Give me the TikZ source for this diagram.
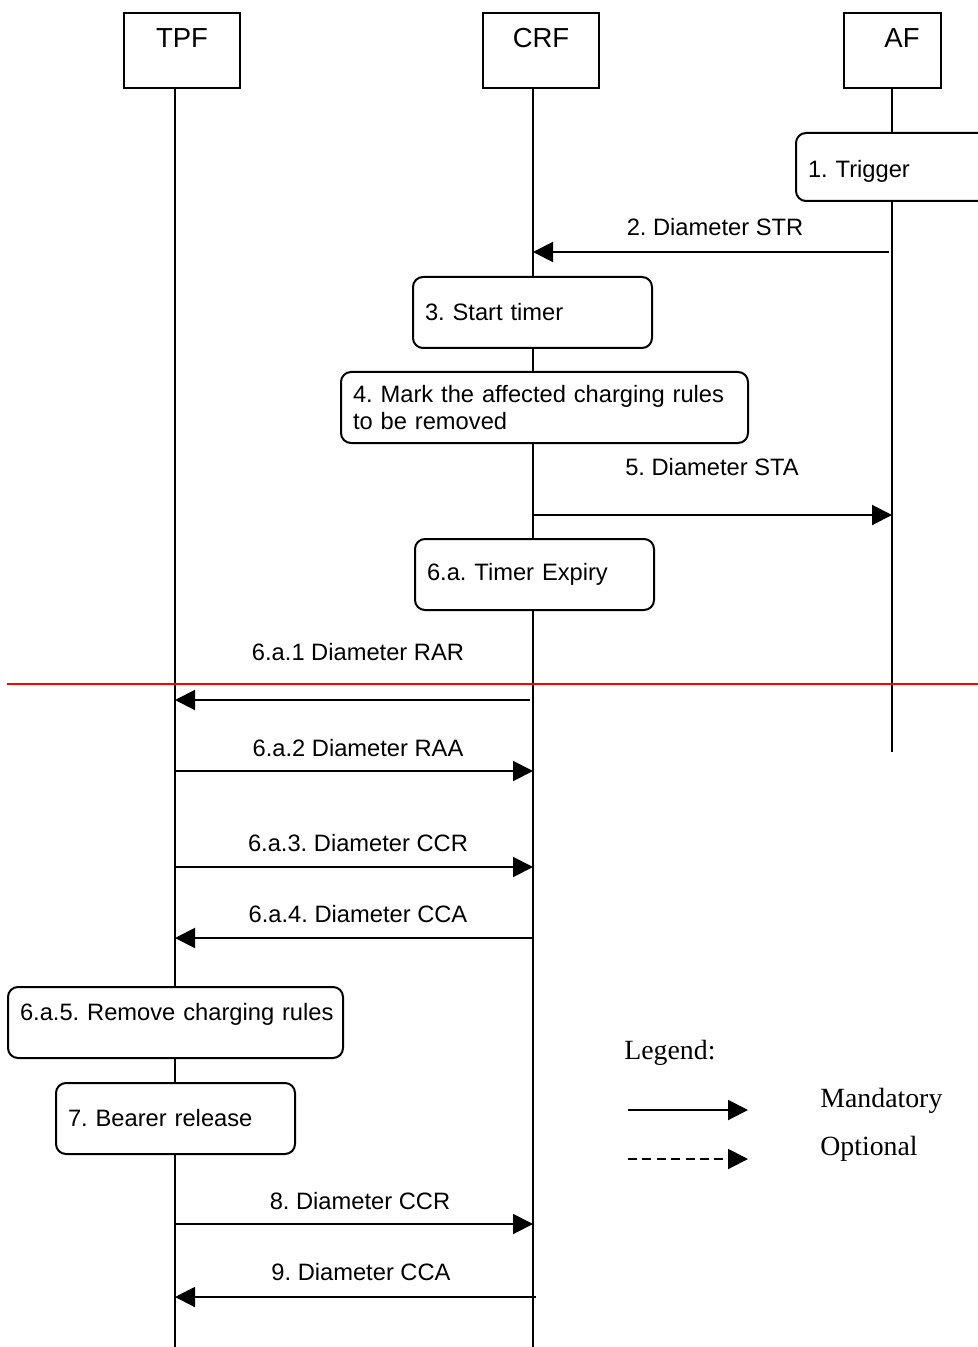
\documentclass[tikz,border=0pt]{standalone}
\usepackage{fontspec}
\setmainfont{Liberation Sans}
\newfontfamily\legendfont{Liberation Serif}
\usetikzlibrary{arrows.meta}
\frenchspacing
\newcommand{\lblfont}{\fontsize{11.85}{13.4}\selectfont}
\tikzset{
  hdrbox/.style={draw, line width=1pt, minimum width=58pt, minimum height=37.5pt, inner sep=0pt, fill=white},
  hdrtxt/.style={font=\fontsize{13.75}{16}\selectfont, anchor=base, inner sep=0pt},
  lifeline/.style={line width=1pt},
  stepbox/.style={draw, line width=1pt, rounded corners=5pt, align=left, anchor=north west,
                  inner xsep=6pt, inner ysep=0pt, font=\lblfont, fill=white, minimum height=35.5pt},
  msg/.style={line width=1pt, -{Triangle[length=10pt,width=10pt]}},
  msglbl/.style={font=\lblfont, anchor=base, inner sep=0pt},
  legtxt/.style={font=\legendfont\fontsize{13.9}{16}\selectfont, anchor=base west, inner sep=0pt},
  sepline/.style={red, line width=0.75pt}
}
\begin{document}
\begin{tikzpicture}[x=0.5pt, y=-0.5pt]
\useasboundingbox (0,0) rectangle (978,1347);

% lifeline coordinates
\coordinate (tpftop) at (175,88);  \coordinate (tpfbot) at (175,1347);
\coordinate (crftop) at (533,88);  \coordinate (crfbot) at (533,1347);
\coordinate (aftop) at (892,88);   \coordinate (afbot) at (892,752);

% header boxes
\node[hdrbox] (tpf) at (182,50.5) {};
\node[hdrtxt] (tpft) at (182,48) {TPF};
\node[hdrbox] (crf) at (541,50.5) {};
\node[hdrtxt] (crft) at (541,48) {CRF};
\node[hdrbox, minimum width=48.5pt] (af) at (892.5,50.5) {};
\node[hdrtxt] (aft) at (902,48) {AF};

% lifelines
\draw[lifeline] (tpftop) -- (tpfbot);
\draw[lifeline] (crftop) -- (crfbot);
\draw[lifeline] (aftop) -- (afbot);

% step boxes
\node[stepbox, text width=93pt, minimum height=34pt, text height=11pt, text depth=0pt] (s1) at (795,132) {1. Trigger};
\node[stepbox, text width=107.5pt] (s3) at (412,276) {3. Start timer};
\node[stepbox, text width=191.5pt] (s4) at (340,371) {4. Mark the affected charging rules\\to be removed};
\node[stepbox, text width=107.5pt] (s6) at (414,538) {6.a. Timer Expiry};
\node[stepbox, text width=155.5pt, text height=8.6pt, text depth=11.1pt] (s65) at (7,986) {\mbox{6.a.5. Remove charging rules}};
\node[stepbox, text width=107.5pt] (s7) at (55,1082) {7. Bearer release};

% message coordinates
\coordinate (m2a) at (889,252);  \coordinate (m2b) at (533,252);
\coordinate (m5a) at (533,515);  \coordinate (m5b) at (892,515);
\coordinate (m61a) at (530,700); \coordinate (m61b) at (175,700);
\coordinate (m62a) at (175,771); \coordinate (m62b) at (533,771);
\coordinate (m63a) at (175,867); \coordinate (m63b) at (533,867);
\coordinate (m64a) at (533,938); \coordinate (m64b) at (175,938);
\coordinate (m8a) at (175,1224); \coordinate (m8b) at (533,1224);
\coordinate (m9a) at (536,1297); \coordinate (m9b) at (175,1297);

\draw[msg] (m2a) -- (m2b);
\node[msglbl] (l2) at (715,236) {2. Diameter STR};
\draw[msg] (m5a) -- (m5b);
\node[msglbl] (l5) at (712,475) {5. Diameter STA};
\draw[msg] (m61a) -- (m61b);
\node[msglbl] (l61) at (358,660) {6.a.1 Diameter RAR};
\draw[msg] (m62a) -- (m62b);
\node[msglbl] (l62) at (358,756) {6.a.2 Diameter RAA};
\draw[msg] (m63a) -- (m63b);
\node[msglbl] (l63) at (358,851) {6.a.3. Diameter CCR};
\draw[msg] (m64a) -- (m64b);
\node[msglbl] (l64) at (358,922) {6.a.4. Diameter CCA};
\draw[msg] (m8a) -- (m8b);
\node[msglbl] (l8) at (360,1209) {8. Diameter CCR};
\draw[msg] (m9a) -- (m9b);
\node[msglbl] (l9) at (361,1280) {9. Diameter CCA};

% red separator
\coordinate (ra) at (7,684); \coordinate (rb) at (978,684);
\draw[sepline] (ra) -- (rb);

% legend
\node[legtxt] (leg) at (624,1059) {Legend:};
\coordinate (lma) at (628,1110); \coordinate (lmb) at (748,1110);
\coordinate (loa) at (628,1159); \coordinate (lob) at (748,1159);
\draw[msg] (lma) -- (lmb);
\draw[msg, dash pattern=on 4.5pt off 2.7pt] (loa) -- (lob);
\node[legtxt] (lman) at (820,1107) {Mandatory};
\node[legtxt] (lopt) at (820,1155) {Optional};
\end{tikzpicture}
\end{document}
